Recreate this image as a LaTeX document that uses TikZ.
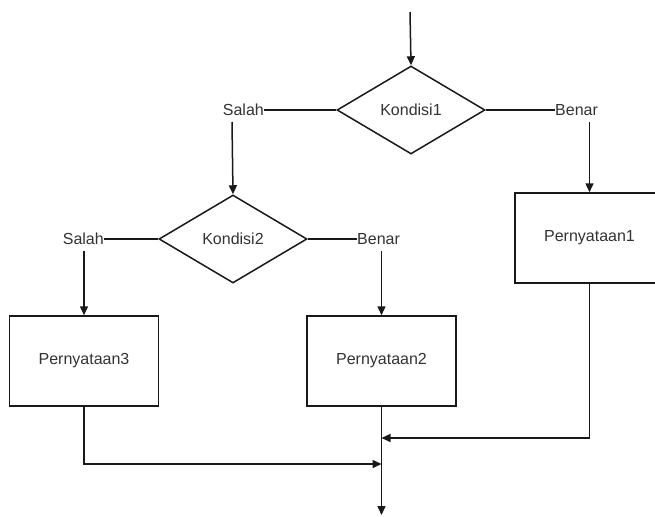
\documentclass[tikz,border=0pt]{standalone}
\usepackage{fontspec}
\setmainfont{Liberation Sans}
\usetikzlibrary{shapes.geometric,arrows.meta}
\begin{document}
\begin{tikzpicture}[x=1pt,y=-1pt,
  every node/.style={font=\fontsize{16}{19}\selectfont, text=black!80},
  conn/.style={line width=1.5pt, draw=black!90},
  arr/.style={conn, -{Triangle[length=9pt,width=8pt]}},
  decision/.style={draw=black!90, line width=1.5pt, diamond, aspect=2, inner sep=2pt,
    minimum width=148pt, minimum height=88pt},
  stmt/.style={draw=black!90, line width=1.5pt, rectangle, minimum width=149pt, minimum height=90pt},
  lbl/.style={inner sep=0pt}]
\useasboundingbox (0,0) rectangle (655,516);
\fill[white] (0,0) rectangle (655,516);

\node[decision] (d1) at (411,110) {Kondisi1};
\node[decision] (d2) at (233,239) {Kondisi2};
\node[stmt] (p1) at (589.5,238) {Pernyataan1};
\node[stmt] (p2) at (381.5,361) {Pernyataan2};
\node[stmt] (p3) at (84,361) {Pernyataan3};

\node[lbl, anchor=east] (s1) at (264,110) {Salah};
\node[lbl, anchor=west] (b1) at (555,110) {Benar};
\node[lbl, anchor=east] (s2) at (104,239) {Salah};
\node[lbl, anchor=west] (b2) at (357,239) {Benar};

\coordinate (start) at (410,12);
\coordinate (s1b) at (232,122);
\coordinate (b1b) at (589.5,122);
\coordinate (s2b) at (84,251);
\coordinate (b2b) at (381.5,251);
\coordinate (j1) at (381.5,438);
\coordinate (j2) at (381.5,464);
\coordinate (finish) at (381.5,515);

\draw[arr] (start) -- (d1.north);
\draw[conn] (d1.west) -- (s1.east);
\draw[conn] (d1.east) -- (b1.west);
\draw[arr] (s1b) -- (d2.north);
\draw[arr] (b1b) -- (p1.north);
\draw[conn] (d2.west) -- (s2.east);
\draw[conn] (d2.east) -- (b2.west);
\draw[arr] (s2b) -- (p3.north);
\draw[arr] (b2b) -- (p2.north);
\draw[arr] (p2.south) -- (finish);
\draw[arr] (p1.south) |- (j1);
\draw[arr] (p3.south) |- (j2);
\end{tikzpicture}
\end{document}
